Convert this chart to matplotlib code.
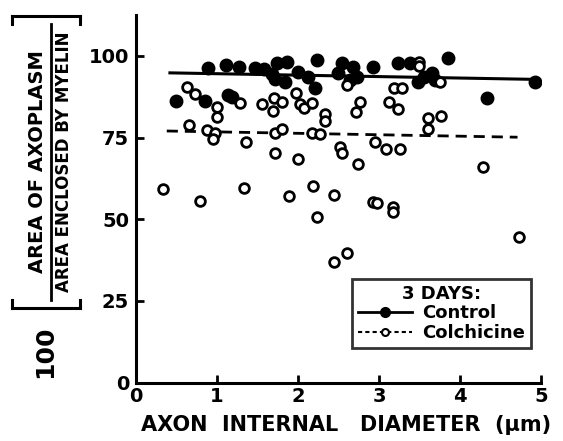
import matplotlib
matplotlib.use("Agg")
import matplotlib.pyplot as plt
from matplotlib.lines import Line2D
import numpy as np

# ---- data ----
control_x = [0.49, 0.85, 0.89, 1.11, 1.13, 1.19, 1.27, 1.47, 1.58, 1.68, 1.72, 1.74, 1.86, 1.84,
             2.00, 2.12, 2.21, 2.23, 2.49, 2.54, 2.64, 2.68, 2.73, 2.92, 3.23, 3.38, 3.48, 3.56,
             3.65, 3.69, 3.85, 4.33, 4.92]
control_y = [86.2, 86.2, 96.3, 97.3, 88.1, 87.5, 96.6, 96.3, 96.0, 94.5, 93.0, 97.9, 98.2, 91.9,
             95.1, 93.6, 90.2, 98.8, 94.8, 97.9, 92.7, 96.6, 93.6, 96.6, 97.9, 97.9, 92.1, 93.6,
             94.8, 92.7, 99.4, 87.2, 91.9]

colch_x = [0.33, 0.63, 0.73, 0.65, 0.88, 0.97, 0.95, 1.00, 1.00, 1.29, 1.55, 1.70, 1.80, 1.69,
           1.36, 1.71, 1.72, 1.80, 2.00, 1.98, 2.02, 2.08, 2.17, 2.33, 2.33, 2.17, 2.27, 2.52,
           2.54, 0.79, 1.33, 1.89, 2.19, 2.45, 2.24, 2.45, 2.61, 3.19, 3.28, 2.76, 2.71, 3.12,
           3.23, 3.60, 3.77, 3.60, 2.95, 3.09, 3.26, 2.74, 4.28, 2.92, 2.98, 3.17, 3.17, 4.73,
           2.60, 3.75, 3.50, 3.50]
colch_y = [59.2, 90.5, 88.3, 78.9, 77.3, 76.4, 74.6, 84.4, 81.3, 85.6, 85.3, 87.2, 85.9, 83.2,
           73.6, 70.3, 76.4, 77.6, 68.4, 88.7, 85.3, 84.1, 85.6, 82.2, 80.1, 76.4, 76.1, 72.1,
           70.3, 55.7, 59.5, 57.2, 60.2, 57.4, 50.6, 36.9, 39.7, 90.2, 90.2, 85.9, 82.8, 85.9,
           83.8, 81.0, 81.6, 77.6, 73.6, 71.5, 71.5, 66.8, 66.1, 55.2, 54.9, 53.7, 52.2, 44.6,
           91.1, 91.9, 98.2, 96.9]

fit_x_control = [0.40, 4.92]
fit_y_control = [94.8, 92.8]
fit_x_colch = [0.38, 4.71]
fit_y_colch = [77.0, 75.1]

xticks = [0, 1, 2, 3, 4, 5]
yticks = [0, 25, 50, 75, 100]

W, H = 563, 441
fig = plt.figure(figsize=(W / 100, H / 100), dpi=100)
ax = fig.add_axes([136 / W, (H - 382.6) / H, (541 - 136) / W, (382.6 - 15) / H])

ax.plot(fit_x_control, fit_y_control, color="black", lw=2.2, solid_capstyle="butt")
ax.plot(fit_x_colch, fit_y_colch, color="black", lw=2.0, dashes=(4, 2.5))
ax.plot(control_x, control_y, "o", color="black", ms=9, mec="black", zorder=3)
ax.plot(colch_x, colch_y, "o", mfc="white", mec="black", ms=7, mew=2.0, zorder=4)

ax.set_xlim(0, 5)
ax.set_ylim(0, 112.5)
for s in ["top", "right"]:
    ax.spines[s].set_visible(False)
for s in ["left", "bottom"]:
    ax.spines[s].set_linewidth(2.2)
ax.set_xticks(xticks)
ax.set_yticks(yticks)
ax.set_xticklabels([str(t) for t in xticks])
ax.set_yticklabels([str(t) for t in yticks])
ax.tick_params(direction="in", length=6, width=2, labelsize=14)
ax.tick_params(axis="x", pad=3)
ax.tick_params(axis="y", pad=5)
for lab in ax.get_xticklabels() + ax.get_yticklabels():
    lab.set_fontweight("heavy")

fig.text(346 / W, 1 - 425 / H, "AXON  INTERNAL   DIAMETER  (\u03bcm)", ha="center", va="center",
         fontsize=15, fontweight="heavy")

# y-label composite
def fx(px):
    return px / W

def fy(py):
    return 1 - py / H

fig.text(fx(38), fy(162), "AREA OF AXOPLASM", rotation=90, ha="center", va="center",
         fontsize=14, fontweight="heavy")
fig.text(fx(64), fy(162), "AREA ENCLOSED BY MYELIN", rotation=90, ha="center", va="center",
         fontsize=12, fontweight="heavy")
fig.add_artist(Line2D([fx(51), fx(51)], [fy(24), fy(300)], color="black", lw=2))
for yb, d in [(16, 8), (308, -8)]:
    fig.add_artist(Line2D([fx(12), fx(80)], [fy(yb), fy(yb)], color="black", lw=2.2))
    fig.add_artist(Line2D([fx(12), fx(12)], [fy(yb), fy(yb + d)], color="black", lw=2.2))
    fig.add_artist(Line2D([fx(80), fx(80)], [fy(yb), fy(yb + d)], color="black", lw=2.2))
fig.text(fx(45), fy(352), "100", rotation=90, ha="center", va="center",
         fontsize=18, fontweight="heavy")

# legend
leg_handles = [
    Line2D([], [], color="black", lw=2, marker="o", ms=7, mfc="black"),
    Line2D([], [], color="black", lw=1.5, dashes=(2, 1.5), marker="o", ms=5, mfc="white", mew=1.5),
]
leg = ax.legend(leg_handles, ["Control", "Colchicine"], title="3 DAYS:", loc="lower right",
                bbox_to_anchor=(0.975, 0.095), frameon=True, fancybox=False, edgecolor="black",
                prop={"weight": "heavy", "size": 13}, title_fontproperties={"weight": "heavy", "size": 13},
                handlelength=3.0, borderpad=0.3, labelspacing=0.1, handletextpad=0.6,
                borderaxespad=0.0)
leg.get_frame().set_linewidth(2)

fig.savefig("out.png", dpi=100)
